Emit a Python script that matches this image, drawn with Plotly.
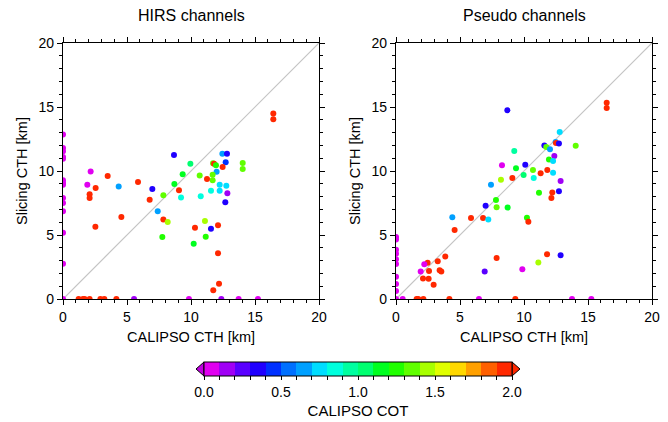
import plotly.graph_objects as go

# ---------------- data ----------------
# HIRS channels panel
hirs_x = [0, 0, 0, 0, 0, 0, 0, 0, 0, 0, 0, 0, 0, 0,
          1.22, 1.56, 1.69, 2.08, 2.92, 3.23, 4.17, 5.55, 9.84, 12.37, 13.72, 15.23,
          16.43, 16.43, 8.67, 12.45, 12.81, 12.71, 9.95, 11.72, 11.8, 11.95,
          14.04, 14.04, 12.47, 2.16, 12.0, 3.49, 9.35, 10.68, 11.69, 11.69,
          11.25, 5.86, 1.9, 8.7, 12.24, 12.76, 2.55, 4.35, 6.98, 9.06,
          11.56, 12.24, 2.08, 2.08, 12.84, 7.84, 9.22, 10.76, 6.77, 12.68,
          7.4, 4.56, 7.84, 8.18, 11.09, 2.53, 10.31, 11.56, 12.11, 7.76,
          11.15, 10.21, 12.11, 12.19, 11.74]
hirs_y = [0, 12.86, 11.8, 11.54, 11.09, 10.96, 9.27, 9.06, 8.93, 7.89, 7.5, 6.85, 5.18, 2.76,
          0, 0, 0, 0, 0, 0, 0, 0, 0, 0, 0, 0,
          14.5, 14.04, 11.25, 11.35, 11.35, 10.68, 10.57, 10.6, 10.57, 10.44,
          10.63, 10.16, 10.31, 9.97, 9.95, 9.61, 9.74, 9.64, 9.71, 9.27,
          9.375, 9.14, 8.93, 8.98, 8.93, 8.85, 8.67, 8.78, 8.59, 8.49,
          8.46, 8.46, 8.18, 7.89, 8.26, 8.1, 7.92, 8.02, 7.76, 7.55,
          6.85, 6.41, 6.22, 6.02, 6.09, 5.65, 5.57, 5.49, 5.76, 4.84,
          4.87, 4.32, 3.57, 1.2, 0.68]
hirs_cot = [0.05, 0.05, 0.05, 0.05, 0.05, 0.05, 0.05, 0.05, 0.05, 0.05, 0.05, 0.05, 0.05, 0.05,
            2.5, 2.5, 2.5, 2.5, 2.5, 2.5, 2.5, 0.15, 0.05, 0.15, 0.05, 0.05,
            2.5, 2.5, 0.35, 0.65, 0.35, 0.45, 1.05, 1.35, 2.5, 1.2,
            1.35, 1.35, 2.5, 0.05, 0.65, 2.5, 1.15, 1.3, 1.3, 1.3,
            2.5, 2.5, 0.05, 1.15, 0.75, 0.75, 2.5, 0.65, 0.35, 2.5,
            0.85, 0.75, 2.5, 2.5, 0.15, 1.3, 0.85, 0.85, 2.5, 0.35,
            0.65, 2.5, 2.5, 1.45, 1.45, 2.5, 2.5, 0.35, 2.5, 1.2,
            1.2, 1.15, 2.5, 2.5, 2.5]

# Pseudo channels panel
pseudo_x = [0, 0, 0, 0, 0, 0, 0, 0, 0, 0,
            0.52, 1.61, 1.74, 2.14, 4.17, 6.48, 9.32, 13.75, 15.26,
            16.46, 16.46, 8.7, 12.79, 14.04, 11.59, 11.74, 12.03, 12.47, 12.5,
            12.73, 9.24, 12.37, 11.95, 12.27, 8.28, 10.1, 9.375, 10.7, 11.82,
            11.3, 12.27, 9.09, 9.97, 10.76, 8.2, 12.86, 7.42, 11.17, 12.21,
            12.14, 12.73, 7.81, 7.0, 7.86, 8.72, 4.4, 5.86, 6.8, 7.21,
            10.23, 10.34, 4.58, 3.85, 7.86, 11.8, 12.86, 11.12, 3.26, 2.47,
            2.21, 1.93, 2.58, 3.41, 3.54, 6.93, 9.87, 2.11, 2.55, 2.94]
pseudo_y = [0, 4.84, 4.64, 3.85, 3.54, 3.1, 2.73, 1.74, 1.17, 0.63,
            0, 0, 0, 0, 0, 0, 0, 0, 0,
            15.34, 14.92, 14.74, 13.05, 11.98, 12.0, 11.875, 11.69, 12.27, 12.19,
            12.14, 11.56, 11.17, 10.89, 10.78, 10.44, 10.49, 10.21, 10.08, 10.08,
            9.82, 9.87, 9.45, 9.69, 9.45, 9.32, 9.22, 8.93, 8.31, 8.33,
            7.89, 8.41, 7.73, 7.29, 7.16, 7.14, 6.38, 6.33, 6.33, 6.22,
            6.35, 6.04, 5.39, 3.33, 3.2, 3.49, 3.41, 2.86, 2.94, 2.84,
            2.71, 2.14, 2.19, 2.24, 2.14, 2.14, 2.32, 1.61, 1.59, 1.12]
pseudo_cot = [0.05, 0.05, 0.05, 0.05, 0.05, 0.05, 0.05, 0.05, 0.05, 0.05,
              0.05, 2.5, 2.5, 2.5, 2.5, 0.05, 2.5, 0.05, 0.05,
              2.5, 2.5, 0.35, 0.75, 1.35, 0.35, 1.35, 0.65, 0.65, 2.5,
              0.35, 0.9, 0.15, 1.2, 0.75, 0.05, 0.35, 1.15, 1.3, 2.5,
              2.5, 0.75, 2.5, 1.05, 0.85, 1.45, 0.15, 0.65, 1.25, 2.5,
              2.5, 0.35, 1.2, 0.35, 1.3, 1.15, 0.65, 2.5, 2.5, 0.75,
              1.2, 2.5, 2.5, 2.5, 2.5, 2.5, 0.35, 1.45, 2.5, 2.5,
              0.05, 0.05, 2.5, 2.5, 2.5, 0.25, 0.05, 2.5, 2.5, 2.5]

panel_titles = ["HIRS channels", "Pseudo channels"]
x_title = "CALIPSO CTH [km]"
y_title = "Slicing CTH [km]"
cbar_title = "CALIPSO COT"
axis_min, axis_max = 0, 20
cot_min, cot_max = 0.0, 2.0
cbar_ticks = [round(0.1 * i, 1) for i in range(21)]
cbar_labels = [f"{v:.1f}" if abs(v * 2 - round(v * 2)) < 1e-9 else "" for v in cbar_ticks]

# ---------------- style ----------------
bin_colors = ["#E000F0", "#A000F5", "#5A00FF", "#2000FF", "#0030FF",
              "#0070FF", "#00A0FF", "#00DDFF", "#00FFDD", "#00FFA0",
              "#00FF70", "#00FF20", "#20FF00", "#60FF00", "#A8FF00",
              "#E0FF00", "#FFD800", "#FFA000", "#FF6000", "#FF2800"]
n = len(bin_colors)
colorscale = []
for i, c in enumerate(bin_colors):
    colorscale.append([i / n, c])
    colorscale.append([(i + 1) / n, c])

FONT = "Liberation Sans, Arial, Helvetica, sans-serif"
W, H = 668, 422
# pixel geometry
L1, R1 = 63, 319
L2, R2 = 396, 652
TOP, BOT = 43, 299

def px(xp):
    return xp / W

def py(yp):
    return 1 - yp / H

fig = go.Figure()
for i, (xs, ys, cs) in enumerate([(hirs_x, hirs_y, hirs_cot), (pseudo_x, pseudo_y, pseudo_cot)]):
    ax = "" if i == 0 else "2"
    fig.add_trace(go.Scatter(
        x=xs, y=ys, mode="markers",
        xaxis="x" + ax, yaxis="y" + ax,
        marker=dict(size=6, color=cs, coloraxis="coloraxis", line=dict(width=0)),
        showlegend=False, hoverinfo="skip",
    ))
    fig.add_shape(type="line", xref="x" + ax, yref="y" + ax,
                  x0=axis_min, y0=axis_min, x1=axis_max, y1=axis_max,
                  line=dict(color="#C4C4C4", width=1.2), layer="below")

axis_common = dict(
    range=[axis_min, axis_max], dtick=5, tick0=0,
    ticks="outside", ticklen=5, tickwidth=1, tickcolor="black",
    minor=dict(dtick=1, ticks="outside", ticklen=3, tickwidth=1, tickcolor="black"),
    showline=True, linecolor="black", linewidth=1.2, mirror="allticks",
    showgrid=False, zeroline=False, automargin=False,
    tickfont=dict(family=FONT, size=14, color="black"),
)

fig.update_layout(
    template="none",
    width=W, height=H,
    margin=dict(l=0, r=0, t=0, b=0, autoexpand=False),
    paper_bgcolor="white", plot_bgcolor="white",
    font=dict(family=FONT, color="black"),
    xaxis=dict(domain=[px(L1), px(R1)], anchor="y", **axis_common),
    yaxis=dict(domain=[py(BOT), py(TOP)], anchor="x", **axis_common),
    xaxis2=dict(domain=[px(L2), px(R2)], anchor="y2", **axis_common),
    yaxis2=dict(domain=[py(BOT), py(TOP)], anchor="x2", **axis_common),
    coloraxis=dict(
        cmin=cot_min, cmax=cot_max, colorscale=colorscale,
        colorbar=dict(
            orientation="h", xref="paper", yref="paper",
            x=px(358), xanchor="center", y=py(362), yanchor="top",
            len=308, lenmode="pixels", thickness=14, thicknessmode="pixels",
            xpad=0, ypad=0,
            outlinecolor="black", outlinewidth=1,
            tickmode="array", tickvals=cbar_ticks, ticktext=cbar_labels,
            ticks="outside", ticklen=4, tickcolor="black",
            tickfont=dict(family=FONT, size=14, color="black"),
            title=dict(text=cbar_title, side="bottom",
                       font=dict(family=FONT, size=15, color="black")),
        ),
    ),
)

# colorbar end triangles
bar_l, bar_r, bar_t, bar_b = 204, 512, 362, 376
fig.add_shape(type="path", xref="paper", yref="paper",
              path=f"M {px(bar_l)},{py(bar_t)} L {px(bar_l)},{py(bar_b)} L {px(bar_l-8)},{py((bar_t+bar_b)/2)} Z",
              fillcolor="#C000E0", line=dict(color="black", width=1))
fig.add_shape(type="path", xref="paper", yref="paper",
              path=f"M {px(bar_r)},{py(bar_t)} L {px(bar_r)},{py(bar_b)} L {px(bar_r+8)},{py((bar_t+bar_b)/2)} Z",
              fillcolor=bin_colors[-1], line=dict(color="black", width=1))

# titles
for (l, r), t in zip([(L1, R1), (L2, R2)], panel_titles):
    cx = (l + r) / 2
    fig.add_annotation(text=t, x=px(cx), y=py(16), xref="paper", yref="paper",
                       showarrow=False, xanchor="center", yanchor="middle",
                       font=dict(family=FONT, size=16, color="black"))
    fig.add_annotation(text=x_title, x=px(cx), y=py(337), xref="paper", yref="paper",
                       showarrow=False, xanchor="center", yanchor="middle",
                       font=dict(family=FONT, size=14.5, color="black"))
    fig.add_annotation(text=y_title, x=px(l - 41), y=py((TOP + BOT) / 2), xref="paper", yref="paper",
                       showarrow=False, xanchor="center", yanchor="middle", textangle=-90,
                       font=dict(family=FONT, size=14.5, color="black"))

fig.write_html("out.html",
               config={"displayModeBar": False, "staticPlot": True},
               post_script="document.body.style.margin='0';document.body.style.padding='0';")
